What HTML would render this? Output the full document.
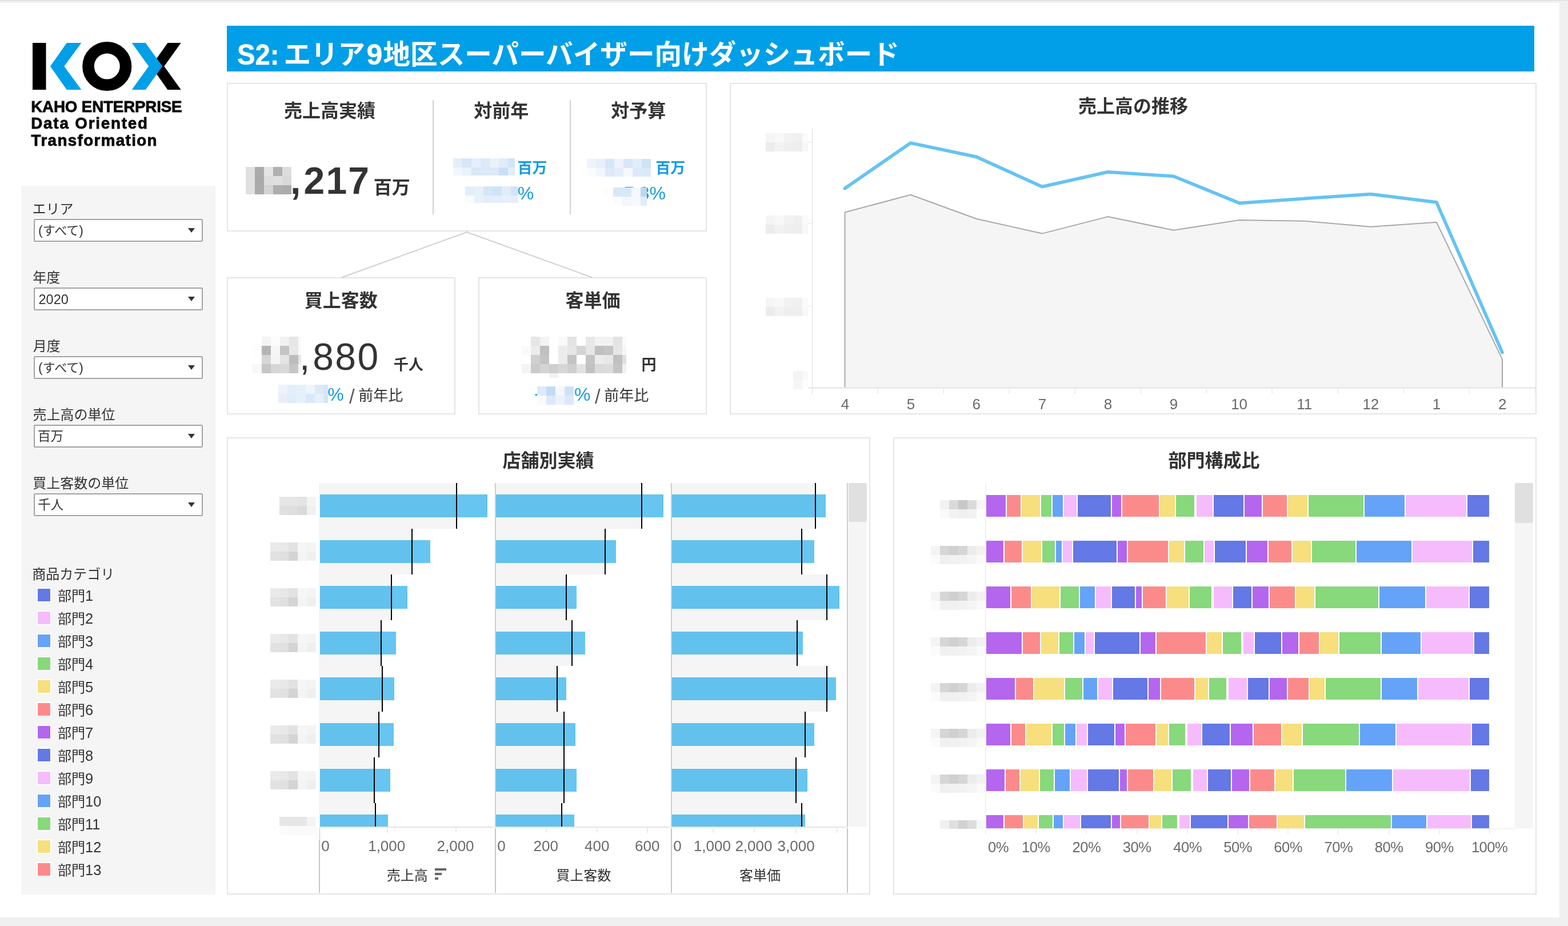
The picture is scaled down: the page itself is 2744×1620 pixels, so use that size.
<!DOCTYPE html>
<html lang="ja"><head><meta charset="utf-8"><title>S2 Dashboard</title><style>
html,body{margin:0;padding:0}
body{width:2744px;height:1620px;position:relative;overflow:hidden;background:#f0f0f0;font-family:"Liberation Sans","Noto Sans CJK JP",sans-serif;color:#333}
.r{position:absolute}
.t{position:absolute;white-space:nowrap;line-height:1.4;margin:0;padding:0}
.m{position:absolute}
.p{position:absolute;box-sizing:border-box;border:2px solid #e5e5e5;background:#fff}
.dd{position:absolute;box-sizing:border-box;border:2px solid #a3a3a3;border-radius:2.5px;background:#fff;width:296px;height:40px;left:59px}
.dd:after{content:"";position:absolute;left:268px;top:14px;border-left:6px solid transparent;border-right:6px solid transparent;border-top:8px solid #333}
.sw{position:absolute;left:64px;width:22px;height:22px;border:2px solid #fff}
svg.abs{position:absolute;overflow:visible}
#w{position:absolute;left:0;top:0;width:2744px;height:1620px;will-change:transform}
</style></head><body>
<div id="w"><div class="r" style="left:0px;top:0px;width:2744px;height:1px;background:#dadada;"></div>
<div class="r" style="left:0px;top:5px;width:2729px;height:1600px;background:#fff;"></div><svg class="abs" style="left:50px;top:60px;filter:blur(0.6px)" width="290" height="110" viewBox="50 60 290 110"><rect x="57" y="75" width="23.5" height="82" fill="#000"/><polygon points="116.8,75 142.4,75 112.3,116 142.4,157 116.8,157 88,116" fill="#009fe8"/><circle cx="187.3" cy="116" r="32.8" fill="none" stroke="#000" stroke-width="20.6"/><polygon points="316.7,75 293.4,75 264.5,116 293.4,157 316.7,157 287.3,116" fill="#000"/><polygon points="230.7,75 254.7,75 284.2,116 254.7,157 230.7,157 260.2,116" fill="#009fe8"/></svg><div class="t" style="left:54.24px;top:167.51px;font-size:27.8px;font-weight:bold;color:#0a0a0a;letter-spacing:-0.2px;filter:blur(0.5px);-webkit-text-stroke:0.8px #0a0a0a;">KAHO ENTERPRISE</div>
<div class="t" style="left:54.24px;top:197.41px;font-size:27.8px;font-weight:bold;color:#0a0a0a;letter-spacing:1.8px;filter:blur(0.5px);-webkit-text-stroke:0.8px #0a0a0a;">Data Oriented</div>
<div class="t" style="left:54.59px;top:226.51px;font-size:27.8px;font-weight:bold;color:#0a0a0a;letter-spacing:1.36px;filter:blur(0.5px);-webkit-text-stroke:0.8px #0a0a0a;">Transformation</div>
<div class="r" style="left:37px;top:325px;width:340px;height:1240px;background:#f5f5f5;"></div>
<div class="t" style="left:56.48px;top:348.58px;font-size:24px;color:#333;">エリア</div>
<div class="dd" style="top:383px"></div>
<div class="t" style="left:67.07px;top:388.88px;font-size:22px;color:#333;"><span style="font-size:1.045em;line-height:0">(</span>すべて<span style="font-size:1.045em;line-height:0">)</span></div>
<div class="t" style="left:57.35px;top:468.58px;font-size:24px;color:#333;">年度</div>
<div class="dd" style="top:503px"></div>
<div class="t" style="left:67.52px;top:507.61px;font-size:23.5px;color:#333;">2020</div>
<div class="t" style="left:57.80px;top:588.58px;font-size:24px;color:#333;">月度</div>
<div class="dd" style="top:623px"></div>
<div class="t" style="left:67.07px;top:628.88px;font-size:22px;color:#333;"><span style="font-size:1.045em;line-height:0">(</span>すべて<span style="font-size:1.045em;line-height:0">)</span></div>
<div class="t" style="left:57.44px;top:708.58px;font-size:24px;color:#333;">売上高の単位</div>
<div class="dd" style="top:743px"></div>
<div class="t" style="left:66.06px;top:748.35px;font-size:22.5px;color:#333;">百万</div>
<div class="t" style="left:57.30px;top:828.58px;font-size:24px;color:#333;">買上客数の単位</div>
<div class="dd" style="top:863px"></div>
<div class="t" style="left:66.33px;top:868.35px;font-size:22.5px;color:#333;">千人</div>
<div class="t" style="left:56.34px;top:987.88px;font-size:24px;color:#333;">商品カテゴリ</div>
<div class="sw" style="top:1028px;background:#6478e6"></div>
<div class="t" style="left:100.99px;top:1026.18px;font-size:24px;color:#333;">部門<span style="font-size:1.062em;line-height:0">1</span></div>
<div class="sw" style="top:1068px;background:#f6bbfc"></div>
<div class="t" style="left:100.99px;top:1066.18px;font-size:24px;color:#333;">部門<span style="font-size:1.062em;line-height:0">2</span></div>
<div class="sw" style="top:1108px;background:#65a3f9"></div>
<div class="t" style="left:100.99px;top:1106.18px;font-size:24px;color:#333;">部門<span style="font-size:1.062em;line-height:0">3</span></div>
<div class="sw" style="top:1148px;background:#88d87c"></div>
<div class="t" style="left:100.99px;top:1146.18px;font-size:24px;color:#333;">部門<span style="font-size:1.062em;line-height:0">4</span></div>
<div class="sw" style="top:1188px;background:#f6df7c"></div>
<div class="t" style="left:100.99px;top:1186.18px;font-size:24px;color:#333;">部門<span style="font-size:1.062em;line-height:0">5</span></div>
<div class="sw" style="top:1228px;background:#fb8b8b"></div>
<div class="t" style="left:100.99px;top:1226.18px;font-size:24px;color:#333;">部門<span style="font-size:1.062em;line-height:0">6</span></div>
<div class="sw" style="top:1268px;background:#b466ef"></div>
<div class="t" style="left:100.99px;top:1266.18px;font-size:24px;color:#333;">部門<span style="font-size:1.062em;line-height:0">7</span></div>
<div class="sw" style="top:1308px;background:#6478e6"></div>
<div class="t" style="left:100.99px;top:1306.18px;font-size:24px;color:#333;">部門<span style="font-size:1.062em;line-height:0">8</span></div>
<div class="sw" style="top:1348px;background:#f6bbfc"></div>
<div class="t" style="left:100.99px;top:1346.18px;font-size:24px;color:#333;">部門<span style="font-size:1.062em;line-height:0">9</span></div>
<div class="sw" style="top:1388px;background:#65a3f9"></div>
<div class="t" style="left:100.99px;top:1386.18px;font-size:24px;color:#333;">部門<span style="font-size:1.062em;line-height:0">10</span></div>
<div class="sw" style="top:1428px;background:#88d87c"></div>
<div class="t" style="left:100.99px;top:1426.18px;font-size:24px;color:#333;">部門<span style="font-size:1.062em;line-height:0">11</span></div>
<div class="sw" style="top:1468px;background:#f6df7c"></div>
<div class="t" style="left:100.99px;top:1466.18px;font-size:24px;color:#333;">部門<span style="font-size:1.062em;line-height:0">12</span></div>
<div class="sw" style="top:1508px;background:#fb8b8b"></div>
<div class="t" style="left:100.99px;top:1506.18px;font-size:24px;color:#333;">部門<span style="font-size:1.062em;line-height:0">13</span></div>
<div class="r" style="left:397px;top:45px;width:2288px;height:80px;background:#009fe8;"></div>
<div class="t" style="left:415.46px;top:61.07px;font-size:50px;font-weight:bold;color:#fff;transform:scaleX(.945);transform-origin:0 0;-webkit-text-stroke:0.5px #fff;">S2:</div>
<div class="t" style="left:496.38px;top:62.99px;font-size:47.6px;font-weight:bold;color:#fff;">エリア</div>
<div class="t" style="left:641.47px;top:61.07px;font-size:50px;font-weight:bold;color:#fff;-webkit-text-stroke:0.4px #fff;">9</div>
<div class="t" style="left:670.50px;top:62.99px;font-size:47.6px;font-weight:bold;color:#fff;">地区スーパーバイザー向けダッシュボード</div>
<div class="p" style="left:397px;top:145px;width:840px;height:260px"></div>
<div class="p" style="left:397px;top:485px;width:400px;height:240px"></div>
<div class="p" style="left:837px;top:485px;width:400px;height:240px"></div>
<div class="p" style="left:1277px;top:145px;width:1412px;height:580px"></div>
<div class="p" style="left:397px;top:765px;width:1126px;height:800px"></div>
<div class="p" style="left:1563px;top:765px;width:1126px;height:800px"></div>
<div class="r" style="left:757px;top:175px;width:2px;height:200px;background:#d2d2d2;"></div>
<div class="r" style="left:997px;top:175px;width:2px;height:200px;background:#d2d2d2;"></div><svg class="abs" style="left:590px;top:404px" width="460" height="84" viewBox="590 404 460 84"><polyline points="598,485.5 817,406 1036.5,485.5" fill="none" stroke="#cfcfcf" stroke-width="2"/></svg><div class="t" style="left:496.96px;top:171.71px;font-size:32px;font-weight:bold;color:#333;">売上高実績</div>
<div class="t" style="left:829.35px;top:171.71px;font-size:32px;font-weight:bold;color:#333;">対前年</div>
<div class="t" style="left:1069.35px;top:171.71px;font-size:32px;font-weight:bold;color:#333;">対予算</div>
<div class="t" style="left:532.84px;top:503.71px;font-size:32px;font-weight:bold;color:#333;">買上客数</div>
<div class="t" style="left:989.52px;top:503.71px;font-size:32px;font-weight:bold;color:#333;">客単価</div><svg class="m" style="left:430px;top:292px" width="80" height="48" shape-rendering="crispEdges"><rect x="0" y="0" width="16" height="16" fill="#e0e0e0"/><rect x="16" y="0" width="16" height="16" fill="#ababab"/><rect x="32" y="0" width="16" height="16" fill="#e4e4e4"/><rect x="48" y="0" width="16" height="16" fill="#b0b0b0"/><rect x="64" y="0" width="16" height="16" fill="#dcdcdc"/><rect x="0" y="16" width="16" height="16" fill="#e0e0e0"/><rect x="16" y="16" width="16" height="16" fill="#aaaaaa"/><rect x="32" y="16" width="16" height="16" fill="#dddddd"/><rect x="48" y="16" width="16" height="16" fill="#e0e0e0"/><rect x="64" y="16" width="16" height="16" fill="#d9d9d9"/><rect x="0" y="32" width="16" height="16" fill="#e0e0e0"/><rect x="16" y="32" width="16" height="16" fill="#ababab"/><rect x="32" y="32" width="16" height="16" fill="#d4d4d4"/><rect x="48" y="32" width="16" height="16" fill="#adadad"/><rect x="64" y="32" width="16" height="16" fill="#ababab"/></svg><div class="t" style="left:508.02px;top:269.93px;font-size:66px;font-weight:bold;color:#333;">,</div>
<div class="t" style="left:531.61px;top:269.93px;font-size:66px;font-weight:bold;color:#333;letter-spacing:2.1px;">217</div>
<div class="t" style="left:653.81px;top:306.31px;font-size:32px;font-weight:bold;color:#333;">百万</div>
<div class="t" style="left:905.47px;top:275.59px;font-size:26px;font-weight:bold;color:#129ce3;">百万</div>
<div class="t" style="left:905.86px;top:316.31px;font-size:32px;color:#129ce3;">%</div><svg class="m" style="left:793px;top:277px" width="108" height="30" shape-rendering="crispEdges"><rect x="0" y="0" width="16" height="16" fill="#e3eefb"/><rect x="16" y="0" width="16" height="16" fill="#d5e6f8"/><rect x="32" y="0" width="16" height="16" fill="#e5effb"/><rect x="48" y="0" width="16" height="16" fill="#dce9f8"/><rect x="64" y="0" width="16" height="16" fill="#e9f1fb"/><rect x="80" y="0" width="16" height="16" fill="#e0ecf9"/><rect x="96" y="0" width="16" height="16" fill="#d3e4f7"/><rect x="0" y="16" width="16" height="16" fill="#f3f7fd"/><rect x="16" y="16" width="16" height="16" fill="#eaf2fc"/><rect x="32" y="16" width="16" height="16" fill="#d9e8f8"/><rect x="48" y="16" width="16" height="16" fill="#dce9f8"/><rect x="64" y="16" width="16" height="16" fill="#dce9f8"/><rect x="80" y="16" width="16" height="16" fill="#c9dff6"/><rect x="96" y="16" width="16" height="16" fill="#e2edfa"/></svg><svg class="m" style="left:814px;top:326px" width="93" height="29" shape-rendering="crispEdges"><rect x="0" y="0" width="16" height="16" fill="#e3eefb"/><rect x="16" y="0" width="16" height="16" fill="#e6f1fb"/><rect x="32" y="0" width="16" height="16" fill="#d5e6f8"/><rect x="48" y="0" width="16" height="16" fill="#cfe3f7"/><rect x="64" y="0" width="16" height="16" fill="#e0ecf9"/><rect x="80" y="0" width="16" height="16" fill="#d3e4f7"/><rect x="0" y="16" width="16" height="16" fill="#f9fbfe"/><rect x="16" y="16" width="16" height="16" fill="#e8f1fb"/><rect x="32" y="16" width="16" height="16" fill="#e3eefa"/><rect x="48" y="16" width="16" height="16" fill="#e3eefa"/><rect x="64" y="16" width="16" height="16" fill="#e6effa"/><rect x="80" y="16" width="16" height="16" fill="#e3eefa"/></svg><div class="t" style="left:1147.22px;top:275.59px;font-size:26px;font-weight:bold;color:#129ce3;">百万</div>
<div class="t" style="left:1081.45px;top:316.31px;font-size:32px;color:#129ce3;">-7.8%</div><svg class="m" style="left:1027px;top:278px" width="112" height="31" shape-rendering="crispEdges"><rect x="0" y="0" width="16" height="16" fill="#eef4fc"/><rect x="16" y="0" width="16" height="16" fill="#e8f0fb"/><rect x="32" y="0" width="16" height="16" fill="#d5e6f8"/><rect x="48" y="0" width="16" height="16" fill="#edf3fc"/><rect x="64" y="0" width="16" height="16" fill="#d8e7f8"/><rect x="80" y="0" width="16" height="16" fill="#e3edfa"/><rect x="96" y="0" width="16" height="16" fill="#cfe3f7"/><rect x="0" y="16" width="16" height="16" fill="#fbfcfe"/><rect x="16" y="16" width="16" height="16" fill="#f3f7fd"/><rect x="32" y="16" width="16" height="16" fill="#dce9f8"/><rect x="48" y="16" width="16" height="16" fill="#e4eefa"/><rect x="64" y="16" width="16" height="16" fill="#f6f8fd"/><rect x="80" y="16" width="16" height="16" fill="#dce9f8"/><rect x="96" y="16" width="16" height="16" fill="#dbe8f8"/></svg><svg class="m" style="left:1057px;top:327.5px" width="74.75" height="32" shape-rendering="crispEdges"><rect x="0" y="0" width="16" height="16" fill="#fdfdfe"/><rect x="16" y="0" width="16" height="16" fill="#d9e8f8"/><rect x="32" y="0" width="16" height="16" fill="#d9e8f8"/><rect x="48" y="0" width="16" height="16" fill="#f4f7fd"/><rect x="64" y="0" width="16" height="16" fill="#b9d7f4"/><rect x="16" y="16" width="16" height="16" fill="#fbfcfe"/><rect x="32" y="16" width="16" height="16" fill="#f3f6fc"/><rect x="48" y="16" width="16" height="16" fill="#f6f8fd"/><rect x="64" y="16" width="16" height="16" fill="#e0ecfa"/></svg><svg class="m" style="left:442px;top:589px" width="84.5" height="64" shape-rendering="crispEdges"><rect x="16" y="0" width="16" height="16" fill="#f4f4f4"/><rect x="32" y="0" width="16" height="16" fill="#fcfcfc"/><rect x="48" y="0" width="16" height="16" fill="#f1f1f1"/><rect x="64" y="0" width="16" height="16" fill="#e6e6e6"/><rect x="80" y="0" width="16" height="16" fill="#fafafa"/><rect x="0" y="16" width="16" height="16" fill="#fdfdfd"/><rect x="16" y="16" width="16" height="16" fill="#b4b4b4"/><rect x="32" y="16" width="16" height="16" fill="#f6f6f6"/><rect x="48" y="16" width="16" height="16" fill="#c4c4c4"/><rect x="64" y="16" width="16" height="16" fill="#e8e8e8"/><rect x="80" y="16" width="16" height="16" fill="#fafafa"/><rect x="16" y="32" width="16" height="16" fill="#d6d6d6"/><rect x="32" y="32" width="16" height="16" fill="#f5f5f5"/><rect x="48" y="32" width="16" height="16" fill="#e4e4e4"/><rect x="64" y="32" width="16" height="16" fill="#bcbcbc"/><rect x="80" y="32" width="16" height="16" fill="#e6e6e6"/><rect x="0" y="48" width="16" height="16" fill="#f8f8f8"/><rect x="16" y="48" width="16" height="16" fill="#c6c6c6"/><rect x="32" y="48" width="16" height="16" fill="#d6d6d6"/><rect x="48" y="48" width="16" height="16" fill="#d9d9d9"/><rect x="64" y="48" width="16" height="16" fill="#c6c6c6"/><rect x="80" y="48" width="16" height="16" fill="#f6f6f6"/></svg><div class="t" style="left:524.07px;top:578.43px;font-size:66px;color:#333;">,</div>
<div class="t" style="left:547.13px;top:578.43px;font-size:66px;color:#333;letter-spacing:2.5px;">880</div>
<div class="t" style="left:688.80px;top:620.39px;font-size:26px;font-weight:bold;color:#333;">千人</div><svg class="m" style="left:487px;top:673px" width="87" height="32" shape-rendering="crispEdges"><rect x="0" y="0" width="16" height="16" fill="#edf3fc"/><rect x="16" y="0" width="16" height="16" fill="#e3eefa"/><rect x="32" y="0" width="16" height="16" fill="#e6f0fb"/><rect x="48" y="0" width="16" height="16" fill="#eef5fd"/><rect x="64" y="0" width="16" height="16" fill="#dce9f8"/><rect x="80" y="0" width="16" height="16" fill="#d5e6f8"/><rect x="0" y="16" width="16" height="16" fill="#e8effa"/><rect x="16" y="16" width="16" height="16" fill="#e0ecf9"/><rect x="32" y="16" width="16" height="16" fill="#e6f0fb"/><rect x="48" y="16" width="16" height="16" fill="#dae8f8"/><rect x="64" y="16" width="16" height="16" fill="#e6f0fb"/><rect x="80" y="16" width="16" height="16" fill="#d3e4f7"/></svg><div class="t" style="left:573.36px;top:667.71px;font-size:32px;color:#129ce3;">%</div>
<div class="t" style="left:610.90px;top:668.97px;font-size:35px;color:#5a5a5a;">/</div>
<div class="t" style="left:627.37px;top:674.29px;font-size:26px;color:#333;">前年比</div><svg class="m" style="left:913px;top:589px" width="183" height="72" shape-rendering="crispEdges"><rect x="16" y="0" width="16" height="16" fill="#e6e6e6"/><rect x="32" y="0" width="16" height="16" fill="#f3f3f3"/><rect x="64" y="0" width="16" height="16" fill="#fafafa"/><rect x="80" y="0" width="16" height="16" fill="#e4e4e4"/><rect x="112" y="0" width="16" height="16" fill="#e8e8e8"/><rect x="128" y="0" width="16" height="16" fill="#f2f2f2"/><rect x="144" y="0" width="16" height="16" fill="#f2f2f2"/><rect x="160" y="0" width="16" height="16" fill="#e4e4e4"/><rect x="176" y="0" width="16" height="16" fill="#fafafa"/><rect x="0" y="16" width="16" height="16" fill="#fafafa"/><rect x="16" y="16" width="16" height="16" fill="#ececec"/><rect x="32" y="16" width="16" height="16" fill="#c0c0c0"/><rect x="64" y="16" width="16" height="16" fill="#ececec"/><rect x="80" y="16" width="16" height="16" fill="#e6e6e6"/><rect x="96" y="16" width="16" height="16" fill="#d4d4d4"/><rect x="112" y="16" width="16" height="16" fill="#e6e6e6"/><rect x="128" y="16" width="16" height="16" fill="#c0c0c0"/><rect x="144" y="16" width="16" height="16" fill="#c4c4c4"/><rect x="160" y="16" width="16" height="16" fill="#e6e6e6"/><rect x="176" y="16" width="16" height="16" fill="#f6f6f6"/><rect x="16" y="32" width="16" height="16" fill="#d0d0d0"/><rect x="32" y="32" width="16" height="16" fill="#c4c4c4"/><rect x="64" y="32" width="16" height="16" fill="#ececec"/><rect x="80" y="32" width="16" height="16" fill="#c4c4c4"/><rect x="112" y="32" width="16" height="16" fill="#c4c4c4"/><rect x="128" y="32" width="16" height="16" fill="#ececec"/><rect x="144" y="32" width="16" height="16" fill="#e8e8e8"/><rect x="160" y="32" width="16" height="16" fill="#c0c0c0"/><rect x="176" y="32" width="16" height="16" fill="#e0e0e0"/><rect x="0" y="48" width="16" height="16" fill="#f4f4f4"/><rect x="16" y="48" width="16" height="16" fill="#cacaca"/><rect x="32" y="48" width="16" height="16" fill="#d4d4d4"/><rect x="48" y="48" width="16" height="16" fill="#cfcfcf"/><rect x="64" y="48" width="16" height="16" fill="#d6d6d6"/><rect x="80" y="48" width="16" height="16" fill="#cfcfcf"/><rect x="96" y="48" width="16" height="16" fill="#e2e2e2"/><rect x="112" y="48" width="16" height="16" fill="#c2c2c2"/><rect x="128" y="48" width="16" height="16" fill="#dadada"/><rect x="144" y="48" width="16" height="16" fill="#dcdcdc"/><rect x="160" y="48" width="16" height="16" fill="#c4c4c4"/><rect x="176" y="48" width="16" height="16" fill="#f0f0f0"/><rect x="48" y="64" width="16" height="16" fill="#f2f2f2"/></svg><div class="t" style="left:1122.42px;top:620.19px;font-size:26px;font-weight:bold;color:#333;">円</div>
<div class="t" style="left:935.06px;top:667.19px;font-size:32.5px;color:#129ce3;">-</div><svg class="m" style="left:940px;top:676px" width="64.5" height="32" shape-rendering="crispEdges"><rect x="0" y="0" width="16" height="16" fill="#dcebfa"/><rect x="16" y="0" width="16" height="16" fill="#c3dcf6"/><rect x="32" y="0" width="16" height="16" fill="#f3f8fd"/><rect x="48" y="0" width="16" height="16" fill="#cfe3f7"/><rect x="0" y="16" width="16" height="16" fill="#f9fafd"/><rect x="16" y="16" width="16" height="16" fill="#dce9f8"/><rect x="32" y="16" width="16" height="16" fill="#eaf2fc"/><rect x="48" y="16" width="16" height="16" fill="#dde9f9"/></svg><div class="t" style="left:1005.11px;top:667.71px;font-size:32px;color:#129ce3;">%</div>
<div class="t" style="left:1040.90px;top:668.97px;font-size:35px;color:#5a5a5a;">/</div>
<div class="t" style="left:1057.37px;top:674.29px;font-size:26px;color:#333;">前年比</div>
<div class="t" style="left:1887.00px;top:164.41px;font-size:32px;font-weight:bold;color:#333;">売上高の推移</div><svg class="abs" style="left:1280px;top:150px" width="1406" height="572" viewBox="1280 150 1406 572"><polygon points="1478.5,678 1478.5,371.5 1593.5,340.8 1708.6,382.7 1823.7,408.6 1938.7,379.1 2053.8,402.7 2168.8,385.0 2283.8,386.8 2398.9,396.8 2513.9,388.8 2629.0,628.6 2629.0,678" fill="#f5f5f5"/><polyline points="1478.5,678 1478.5,371.5 1593.5,340.8 1708.6,382.7 1823.7,408.6 1938.7,379.1 2053.8,402.7 2168.8,385.0 2283.8,386.8 2398.9,396.8 2513.9,388.8 2629.0,628.6 2629.0,678" fill="none" stroke="#a9a9a9" stroke-width="2" stroke-linejoin="round"/><line x1="1421.5" y1="225" x2="1421.5" y2="689" stroke="#e6e6e6" stroke-width="1.5"/><line x1="1414" y1="678.5" x2="2687" y2="678.5" stroke="#e3e3e3" stroke-width="2"/><line x1="1414" y1="248.7" x2="1421" y2="248.7" stroke="#ececec" stroke-width="1.5"/><line x1="1414" y1="391" x2="1421" y2="391" stroke="#ececec" stroke-width="1.5"/><line x1="1414" y1="535.3" x2="1421" y2="535.3" stroke="#ececec" stroke-width="1.5"/><line x1="1536.0" y1="679.5" x2="1536.0" y2="688.5" stroke="#ededed" stroke-width="2"/><line x1="1651.1" y1="679.5" x2="1651.1" y2="688.5" stroke="#ededed" stroke-width="2"/><line x1="1766.2" y1="679.5" x2="1766.2" y2="688.5" stroke="#ededed" stroke-width="2"/><line x1="1881.2" y1="679.5" x2="1881.2" y2="688.5" stroke="#ededed" stroke-width="2"/><line x1="1996.2" y1="679.5" x2="1996.2" y2="688.5" stroke="#ededed" stroke-width="2"/><line x1="2111.3" y1="679.5" x2="2111.3" y2="688.5" stroke="#ededed" stroke-width="2"/><line x1="2226.3" y1="679.5" x2="2226.3" y2="688.5" stroke="#ededed" stroke-width="2"/><line x1="2341.4" y1="679.5" x2="2341.4" y2="688.5" stroke="#ededed" stroke-width="2"/><line x1="2456.4" y1="679.5" x2="2456.4" y2="688.5" stroke="#ededed" stroke-width="2"/><line x1="2571.5" y1="679.5" x2="2571.5" y2="688.5" stroke="#ededed" stroke-width="2"/><line x1="2686.6" y1="679.5" x2="2686.6" y2="688.5" stroke="#ededed" stroke-width="2"/><polyline points="1478.5,329.6 1593.5,250.1 1708.6,274.3 1823.7,326.7 1938.7,300.8 2053.8,308.4 2168.8,355.3 2283.8,347.3 2398.9,339.7 2513.9,353.8 2629.0,616.6" fill="none" stroke="#66c3f1" stroke-width="5.8" stroke-linejoin="round" stroke-linecap="round"/></svg><svg class="m" style="left:1340px;top:233px" width="74" height="32" shape-rendering="crispEdges"><rect x="0" y="0" width="16" height="16" fill="#f5f5f5"/><rect x="16" y="0" width="16" height="16" fill="#f8f8f8"/><rect x="32" y="0" width="16" height="16" fill="#f2f2f2"/><rect x="48" y="0" width="16" height="16" fill="#f0f0f0"/><rect x="64" y="0" width="16" height="16" fill="#fafafa"/><rect x="0" y="16" width="16" height="16" fill="#ececec"/><rect x="16" y="16" width="16" height="16" fill="#f2f2f2"/><rect x="32" y="16" width="16" height="16" fill="#efefef"/><rect x="48" y="16" width="16" height="16" fill="#eeeeee"/><rect x="64" y="16" width="16" height="16" fill="#f8f8f8"/></svg><svg class="m" style="left:1340px;top:377px" width="74" height="32" shape-rendering="crispEdges"><rect x="0" y="0" width="16" height="16" fill="#f5f5f5"/><rect x="16" y="0" width="16" height="16" fill="#f8f8f8"/><rect x="32" y="0" width="16" height="16" fill="#f2f2f2"/><rect x="48" y="0" width="16" height="16" fill="#f0f0f0"/><rect x="64" y="0" width="16" height="16" fill="#fafafa"/><rect x="0" y="16" width="16" height="16" fill="#ececec"/><rect x="16" y="16" width="16" height="16" fill="#f2f2f2"/><rect x="32" y="16" width="16" height="16" fill="#efefef"/><rect x="48" y="16" width="16" height="16" fill="#eeeeee"/><rect x="64" y="16" width="16" height="16" fill="#f8f8f8"/></svg><svg class="m" style="left:1340px;top:521px" width="74" height="32" shape-rendering="crispEdges"><rect x="0" y="0" width="16" height="16" fill="#f5f5f5"/><rect x="16" y="0" width="16" height="16" fill="#f8f8f8"/><rect x="32" y="0" width="16" height="16" fill="#f2f2f2"/><rect x="48" y="0" width="16" height="16" fill="#f0f0f0"/><rect x="64" y="0" width="16" height="16" fill="#fafafa"/><rect x="0" y="16" width="16" height="16" fill="#ececec"/><rect x="16" y="16" width="16" height="16" fill="#f2f2f2"/><rect x="32" y="16" width="16" height="16" fill="#efefef"/><rect x="48" y="16" width="16" height="16" fill="#eeeeee"/><rect x="64" y="16" width="16" height="16" fill="#f8f8f8"/></svg><svg class="m" style="left:1388px;top:649px" width="26" height="32" shape-rendering="crispEdges"><rect x="0" y="0" width="16" height="16" fill="#f4f4f4"/><rect x="16" y="0" width="16" height="16" fill="#fafafa"/><rect x="0" y="16" width="16" height="16" fill="#f6f6f6"/><rect x="16" y="16" width="16" height="16" fill="#fdfdfd"/></svg><div class="t" style="left:1471.65px;top:688.59px;font-size:26px;color:#6a6a6a;">4</div>
<div class="t" style="left:1586.65px;top:688.59px;font-size:26px;color:#6a6a6a;">5</div>
<div class="t" style="left:1701.58px;top:688.59px;font-size:26px;color:#6a6a6a;">6</div>
<div class="t" style="left:1816.71px;top:688.59px;font-size:26px;color:#6a6a6a;">7</div>
<div class="t" style="left:1931.77px;top:688.59px;font-size:26px;color:#6a6a6a;">8</div>
<div class="t" style="left:2046.83px;top:688.59px;font-size:26px;color:#6a6a6a;">9</div>
<div class="t" style="left:2154.16px;top:688.59px;font-size:26px;color:#6a6a6a;">10</div>
<div class="t" style="left:2269.33px;top:688.59px;font-size:26px;color:#6a6a6a;">11</div>
<div class="t" style="left:2384.40px;top:688.59px;font-size:26px;color:#6a6a6a;">12</div>
<div class="t" style="left:2506.66px;top:688.59px;font-size:26px;color:#6a6a6a;">1</div>
<div class="t" style="left:2622.07px;top:688.59px;font-size:26px;color:#6a6a6a;">2</div>
<div class="t" style="left:879.40px;top:784.21px;font-size:32px;font-weight:bold;color:#333;">店舗別実績</div><svg class="abs" style="left:555px;top:845px" width="965" height="720" viewBox="555 845 965 720" shape-rendering="crispEdges"><rect x="560" y="845" width="239" height="80" fill="#f5f5f5"/><rect x="868" y="845" width="255" height="80" fill="#f5f5f5"/><rect x="1176" y="845" width="251" height="80" fill="#f5f5f5"/><rect x="560" y="925" width="161" height="80" fill="#f5f5f5"/><rect x="868" y="925" width="191" height="80" fill="#f5f5f5"/><rect x="1176" y="925" width="227" height="80" fill="#f5f5f5"/><rect x="560" y="1005" width="125" height="80" fill="#f5f5f5"/><rect x="868" y="1005" width="123" height="80" fill="#f5f5f5"/><rect x="1176" y="1005" width="271" height="80" fill="#f5f5f5"/><rect x="560" y="1085" width="107" height="80" fill="#f5f5f5"/><rect x="868" y="1085" width="133" height="80" fill="#f5f5f5"/><rect x="1176" y="1085" width="219" height="80" fill="#f5f5f5"/><rect x="560" y="1165" width="109" height="80" fill="#f5f5f5"/><rect x="868" y="1165" width="107" height="80" fill="#f5f5f5"/><rect x="1176" y="1165" width="271" height="80" fill="#f5f5f5"/><rect x="560" y="1245" width="103" height="80" fill="#f5f5f5"/><rect x="868" y="1245" width="119" height="80" fill="#f5f5f5"/><rect x="1176" y="1245" width="233" height="80" fill="#f5f5f5"/><rect x="560" y="1325" width="95" height="80" fill="#f5f5f5"/><rect x="868" y="1325" width="119" height="80" fill="#f5f5f5"/><rect x="1176" y="1325" width="217" height="80" fill="#f5f5f5"/><rect x="560" y="1405" width="97" height="41" fill="#f5f5f5"/><rect x="868" y="1405" width="115" height="41" fill="#f5f5f5"/><rect x="1176" y="1405" width="227" height="41" fill="#f5f5f5"/><rect x="560" y="865" width="293" height="40" fill="#009fe8" fill-opacity="0.6"/><rect x="868" y="865" width="293" height="40" fill="#009fe8" fill-opacity="0.6"/><rect x="1176" y="865" width="269" height="40" fill="#009fe8" fill-opacity="0.6"/><rect x="560" y="945" width="193" height="40" fill="#009fe8" fill-opacity="0.6"/><rect x="868" y="945" width="210" height="40" fill="#009fe8" fill-opacity="0.6"/><rect x="1176" y="945" width="249" height="40" fill="#009fe8" fill-opacity="0.6"/><rect x="560" y="1025" width="153" height="40" fill="#009fe8" fill-opacity="0.6"/><rect x="868" y="1025" width="141" height="40" fill="#009fe8" fill-opacity="0.6"/><rect x="1176" y="1025" width="293" height="40" fill="#009fe8" fill-opacity="0.6"/><rect x="560" y="1105" width="133" height="40" fill="#009fe8" fill-opacity="0.6"/><rect x="868" y="1105" width="156" height="40" fill="#009fe8" fill-opacity="0.6"/><rect x="1176" y="1105" width="229" height="40" fill="#009fe8" fill-opacity="0.6"/><rect x="560" y="1185" width="130" height="40" fill="#009fe8" fill-opacity="0.6"/><rect x="868" y="1185" width="123" height="40" fill="#009fe8" fill-opacity="0.6"/><rect x="1176" y="1185" width="287" height="40" fill="#009fe8" fill-opacity="0.6"/><rect x="560" y="1265" width="129" height="40" fill="#009fe8" fill-opacity="0.6"/><rect x="868" y="1265" width="139" height="40" fill="#009fe8" fill-opacity="0.6"/><rect x="1176" y="1265" width="249" height="40" fill="#009fe8" fill-opacity="0.6"/><rect x="560" y="1345" width="123" height="40" fill="#009fe8" fill-opacity="0.6"/><rect x="868" y="1345" width="141" height="40" fill="#009fe8" fill-opacity="0.6"/><rect x="1176" y="1345" width="237" height="40" fill="#009fe8" fill-opacity="0.6"/><rect x="560" y="1425" width="119" height="21" fill="#009fe8" fill-opacity="0.6"/><rect x="868" y="1425" width="137" height="21" fill="#009fe8" fill-opacity="0.6"/><rect x="1176" y="1425" width="233" height="21" fill="#009fe8" fill-opacity="0.6"/><rect x="798" y="845" width="2" height="80" fill="#000"/><rect x="1122" y="845" width="2" height="80" fill="#000"/><rect x="1426" y="845" width="2" height="80" fill="#000"/><rect x="720" y="925" width="2" height="80" fill="#000"/><rect x="1058" y="925" width="2" height="80" fill="#000"/><rect x="1402" y="925" width="2" height="80" fill="#000"/><rect x="684" y="1005" width="2" height="80" fill="#000"/><rect x="990" y="1005" width="2" height="80" fill="#000"/><rect x="1446" y="1005" width="2" height="80" fill="#000"/><rect x="666" y="1085" width="2" height="80" fill="#000"/><rect x="1000" y="1085" width="2" height="80" fill="#000"/><rect x="1394" y="1085" width="2" height="80" fill="#000"/><rect x="668" y="1165" width="2" height="80" fill="#000"/><rect x="974" y="1165" width="2" height="80" fill="#000"/><rect x="1446" y="1165" width="2" height="80" fill="#000"/><rect x="662" y="1245" width="2" height="80" fill="#000"/><rect x="986" y="1245" width="2" height="80" fill="#000"/><rect x="1408" y="1245" width="2" height="80" fill="#000"/><rect x="654" y="1325" width="2" height="80" fill="#000"/><rect x="986" y="1325" width="2" height="80" fill="#000"/><rect x="1392" y="1325" width="2" height="80" fill="#000"/><rect x="656" y="1405" width="2" height="41" fill="#000"/><rect x="982" y="1405" width="2" height="41" fill="#000"/><rect x="1402" y="1405" width="2" height="41" fill="#000"/><rect x="558" y="1446" width="926" height="2" fill="#e4e4e4"/><rect x="559" y="845" width="1" height="601" fill="#ebebeb"/><rect x="866" y="845" width="2" height="601" fill="#cdcdcd"/><rect x="1174" y="845" width="2" height="601" fill="#cdcdcd"/><rect x="1482" y="845" width="2" height="601" fill="#cdcdcd"/><rect x="558" y="1449" width="2" height="113" fill="#c6c6c6"/><rect x="866" y="1449" width="2" height="113" fill="#c6c6c6"/><rect x="1174" y="1449" width="2" height="113" fill="#c6c6c6"/><rect x="1482" y="1449" width="2" height="113" fill="#c6c6c6"/><rect x="677" y="1449" width="2" height="8" fill="#ebebeb"/><rect x="797" y="1449" width="2" height="8" fill="#ebebeb"/><rect x="955" y="1449" width="2" height="8" fill="#ebebeb"/><rect x="1044" y="1449" width="2" height="8" fill="#ebebeb"/><rect x="1132" y="1449" width="2" height="8" fill="#ebebeb"/><rect x="1247" y="1449" width="2" height="8" fill="#ebebeb"/><rect x="1319" y="1449" width="2" height="8" fill="#ebebeb"/><rect x="1392" y="1449" width="2" height="8" fill="#ebebeb"/><rect x="1464" y="1449" width="2" height="8" fill="#ebebeb"/><rect x="1485" y="845" width="32" height="601" fill="#f5f5f5"/><rect x="1485" y="845" width="32" height="68" rx="2" fill="#e0e0e0" shape-rendering="auto"/><rect x="761" y="1519" width="20" height="4" fill="#666"/><rect x="761" y="1527" width="12" height="4" fill="#666"/><rect x="761" y="1535" width="6" height="4" fill="#666"/></svg><svg class="m" style="left:473px;top:869px" width="80" height="32" shape-rendering="crispEdges"><rect x="0" y="0" width="16" height="16" fill="#fdfdfd"/><rect x="16" y="0" width="16" height="16" fill="#e6e6e6"/><rect x="32" y="0" width="16" height="16" fill="#e6e6e6"/><rect x="48" y="0" width="16" height="16" fill="#e4e4e4"/><rect x="64" y="0" width="16" height="16" fill="#f4f4f4"/><rect x="16" y="16" width="16" height="16" fill="#e0e0e0"/><rect x="32" y="16" width="16" height="16" fill="#dedede"/><rect x="48" y="16" width="16" height="16" fill="#dadada"/><rect x="64" y="16" width="16" height="16" fill="#f0f0f0"/></svg><svg class="m" style="left:473px;top:949px" width="80" height="32" shape-rendering="crispEdges"><rect x="0" y="0" width="16" height="16" fill="#eaeaea"/><rect x="16" y="0" width="16" height="16" fill="#e8e8e8"/><rect x="32" y="0" width="16" height="16" fill="#e2e2e2"/><rect x="48" y="0" width="16" height="16" fill="#f6f6f6"/><rect x="64" y="0" width="16" height="16" fill="#f4f4f4"/><rect x="0" y="16" width="16" height="16" fill="#e2e2e2"/><rect x="16" y="16" width="16" height="16" fill="#e0e0e0"/><rect x="32" y="16" width="16" height="16" fill="#d4d4d4"/><rect x="48" y="16" width="16" height="16" fill="#f4f4f4"/><rect x="64" y="16" width="16" height="16" fill="#efefef"/></svg><svg class="m" style="left:473px;top:1029px" width="80" height="32" shape-rendering="crispEdges"><rect x="0" y="0" width="16" height="16" fill="#eaeaea"/><rect x="16" y="0" width="16" height="16" fill="#e8e8e8"/><rect x="32" y="0" width="16" height="16" fill="#e2e2e2"/><rect x="48" y="0" width="16" height="16" fill="#f6f6f6"/><rect x="64" y="0" width="16" height="16" fill="#f4f4f4"/><rect x="0" y="16" width="16" height="16" fill="#e2e2e2"/><rect x="16" y="16" width="16" height="16" fill="#e0e0e0"/><rect x="32" y="16" width="16" height="16" fill="#d4d4d4"/><rect x="48" y="16" width="16" height="16" fill="#f4f4f4"/><rect x="64" y="16" width="16" height="16" fill="#efefef"/></svg><svg class="m" style="left:473px;top:1109px" width="80" height="32" shape-rendering="crispEdges"><rect x="0" y="0" width="16" height="16" fill="#eaeaea"/><rect x="16" y="0" width="16" height="16" fill="#e8e8e8"/><rect x="32" y="0" width="16" height="16" fill="#e2e2e2"/><rect x="48" y="0" width="16" height="16" fill="#f6f6f6"/><rect x="64" y="0" width="16" height="16" fill="#f4f4f4"/><rect x="0" y="16" width="16" height="16" fill="#e2e2e2"/><rect x="16" y="16" width="16" height="16" fill="#e0e0e0"/><rect x="32" y="16" width="16" height="16" fill="#d4d4d4"/><rect x="48" y="16" width="16" height="16" fill="#f4f4f4"/><rect x="64" y="16" width="16" height="16" fill="#efefef"/></svg><svg class="m" style="left:473px;top:1189px" width="80" height="32" shape-rendering="crispEdges"><rect x="0" y="0" width="16" height="16" fill="#eaeaea"/><rect x="16" y="0" width="16" height="16" fill="#e8e8e8"/><rect x="32" y="0" width="16" height="16" fill="#e2e2e2"/><rect x="48" y="0" width="16" height="16" fill="#f6f6f6"/><rect x="64" y="0" width="16" height="16" fill="#f4f4f4"/><rect x="0" y="16" width="16" height="16" fill="#e2e2e2"/><rect x="16" y="16" width="16" height="16" fill="#e0e0e0"/><rect x="32" y="16" width="16" height="16" fill="#d4d4d4"/><rect x="48" y="16" width="16" height="16" fill="#f4f4f4"/><rect x="64" y="16" width="16" height="16" fill="#efefef"/></svg><svg class="m" style="left:473px;top:1269px" width="80" height="32" shape-rendering="crispEdges"><rect x="0" y="0" width="16" height="16" fill="#eaeaea"/><rect x="16" y="0" width="16" height="16" fill="#e8e8e8"/><rect x="32" y="0" width="16" height="16" fill="#e2e2e2"/><rect x="48" y="0" width="16" height="16" fill="#f6f6f6"/><rect x="64" y="0" width="16" height="16" fill="#f4f4f4"/><rect x="0" y="16" width="16" height="16" fill="#e2e2e2"/><rect x="16" y="16" width="16" height="16" fill="#e0e0e0"/><rect x="32" y="16" width="16" height="16" fill="#d4d4d4"/><rect x="48" y="16" width="16" height="16" fill="#f4f4f4"/><rect x="64" y="16" width="16" height="16" fill="#efefef"/></svg><svg class="m" style="left:473px;top:1349px" width="80" height="32" shape-rendering="crispEdges"><rect x="0" y="0" width="16" height="16" fill="#eaeaea"/><rect x="16" y="0" width="16" height="16" fill="#e8e8e8"/><rect x="32" y="0" width="16" height="16" fill="#e2e2e2"/><rect x="48" y="0" width="16" height="16" fill="#f6f6f6"/><rect x="64" y="0" width="16" height="16" fill="#f4f4f4"/><rect x="0" y="16" width="16" height="16" fill="#e2e2e2"/><rect x="16" y="16" width="16" height="16" fill="#e0e0e0"/><rect x="32" y="16" width="16" height="16" fill="#d4d4d4"/><rect x="48" y="16" width="16" height="16" fill="#f4f4f4"/><rect x="64" y="16" width="16" height="16" fill="#efefef"/></svg><svg class="m" style="left:489px;top:1429px" width="69.5" height="41" shape-rendering="crispEdges"><rect x="0" y="0" width="16" height="16" fill="#e6e6e6"/><rect x="16" y="0" width="16" height="16" fill="#e6e6e6"/><rect x="32" y="0" width="16" height="16" fill="#e6e6e6"/><rect x="48" y="0" width="16" height="16" fill="#f4f4f4"/><rect x="0" y="16" width="16" height="16" fill="#fbfbfb"/><rect x="16" y="16" width="16" height="16" fill="#fafafa"/><rect x="32" y="16" width="16" height="16" fill="#fafafa"/><rect x="48" y="16" width="16" height="16" fill="#fafafa"/><rect x="64" y="16" width="16" height="16" fill="#fbfbfb"/><rect x="64" y="32" width="16" height="16" fill="#fafafa"/></svg><div class="t" style="left:562.28px;top:1461.99px;font-size:26px;color:#6a6a6a;">0</div>
<div class="t" style="left:644.19px;top:1461.99px;font-size:26px;color:#6a6a6a;">1,000</div>
<div class="t" style="left:764.52px;top:1461.99px;font-size:26px;color:#6a6a6a;">2,000</div>
<div class="t" style="left:870.28px;top:1461.99px;font-size:26px;color:#6a6a6a;">0</div>
<div class="t" style="left:933.56px;top:1461.99px;font-size:26px;color:#6a6a6a;">200</div>
<div class="t" style="left:1023.12px;top:1461.99px;font-size:26px;color:#6a6a6a;">400</div>
<div class="t" style="left:1111.06px;top:1461.99px;font-size:26px;color:#6a6a6a;">600</div>
<div class="t" style="left:1178.28px;top:1461.99px;font-size:26px;color:#6a6a6a;">0</div>
<div class="t" style="left:1213.89px;top:1461.99px;font-size:26px;color:#6a6a6a;">1,000</div>
<div class="t" style="left:1286.42px;top:1461.99px;font-size:26px;color:#6a6a6a;">2,000</div>
<div class="t" style="left:1360.58px;top:1461.99px;font-size:26px;color:#6a6a6a;">3,000</div>
<div class="t" style="left:676.86px;top:1514.58px;font-size:24px;color:#333;">売上高</div>
<div class="t" style="left:973.36px;top:1514.58px;font-size:24px;color:#333;">買上客数</div>
<div class="t" style="left:1293.91px;top:1514.58px;font-size:24px;color:#333;">客単価</div>
<div class="t" style="left:2044.38px;top:784.21px;font-size:32px;font-weight:bold;color:#333;">部門構成比</div><svg class="abs" style="left:1720px;top:845px" width="966" height="620" viewBox="1720 845 966 620" shape-rendering="crispEdges"><rect x="1724" y="845" width="2" height="604" fill="#f1f1f1"/><rect x="1724" y="1449" width="927" height="2" fill="#f3f3f3"/><rect x="1724" y="1451" width="2" height="8" fill="#f0f0f0"/><rect x="1812" y="1451" width="2" height="8" fill="#f0f0f0"/><rect x="1900" y="1451" width="2" height="8" fill="#f0f0f0"/><rect x="1989" y="1451" width="2" height="8" fill="#f0f0f0"/><rect x="2077" y="1451" width="2" height="8" fill="#f0f0f0"/><rect x="2165" y="1451" width="2" height="8" fill="#f0f0f0"/><rect x="2253" y="1451" width="2" height="8" fill="#f0f0f0"/><rect x="2341" y="1451" width="2" height="8" fill="#f0f0f0"/><rect x="2430" y="1451" width="2" height="8" fill="#f0f0f0"/><rect x="2518" y="1451" width="2" height="8" fill="#f0f0f0"/><rect x="2606" y="1451" width="2" height="8" fill="#f0f0f0"/><rect x="1726" y="866" width="34" height="38" fill="#b466ef"/><rect x="1762" y="866" width="24" height="38" fill="#fb8b8b"/><rect x="1788" y="866" width="32" height="38" fill="#f6df7c"/><rect x="1822" y="866" width="18" height="38" fill="#88d87c"/><rect x="1842" y="866" width="18" height="38" fill="#65a3f9"/><rect x="1862" y="866" width="22" height="38" fill="#f6bbfc"/><rect x="1886" y="866" width="58" height="38" fill="#6478e6"/><rect x="1946" y="866" width="16" height="38" fill="#b466ef"/><rect x="1964" y="866" width="64" height="38" fill="#fb8b8b"/><rect x="2030" y="866" width="26" height="38" fill="#f6df7c"/><rect x="2058" y="866" width="32" height="38" fill="#88d87c"/><rect x="2094" y="866" width="28" height="38" fill="#f6bbfc"/><rect x="2124" y="866" width="52" height="38" fill="#6478e6"/><rect x="2178" y="866" width="30" height="38" fill="#b466ef"/><rect x="2210" y="866" width="42" height="38" fill="#fb8b8b"/><rect x="2254" y="866" width="34" height="38" fill="#f6df7c"/><rect x="2290" y="866" width="96" height="38" fill="#88d87c"/><rect x="2388" y="866" width="70" height="38" fill="#65a3f9"/><rect x="2460" y="866" width="106" height="38" fill="#f6bbfc"/><rect x="2568" y="866" width="38" height="38" fill="#6478e6"/><rect x="1726" y="946" width="30" height="38" fill="#b466ef"/><rect x="1758" y="946" width="30" height="38" fill="#fb8b8b"/><rect x="1790" y="946" width="32" height="38" fill="#f6df7c"/><rect x="1824" y="946" width="22" height="38" fill="#88d87c"/><rect x="1848" y="946" width="10" height="38" fill="#65a3f9"/><rect x="1860" y="946" width="16" height="38" fill="#f6bbfc"/><rect x="1878" y="946" width="76" height="38" fill="#6478e6"/><rect x="1956" y="946" width="16" height="38" fill="#b466ef"/><rect x="1974" y="946" width="70" height="38" fill="#fb8b8b"/><rect x="2046" y="946" width="26" height="38" fill="#f6df7c"/><rect x="2074" y="946" width="32" height="38" fill="#88d87c"/><rect x="2108" y="946" width="16" height="38" fill="#f6bbfc"/><rect x="2126" y="946" width="54" height="38" fill="#6478e6"/><rect x="2182" y="946" width="36" height="38" fill="#b466ef"/><rect x="2220" y="946" width="40" height="38" fill="#fb8b8b"/><rect x="2262" y="946" width="32" height="38" fill="#f6df7c"/><rect x="2296" y="946" width="76" height="38" fill="#88d87c"/><rect x="2374" y="946" width="96" height="38" fill="#65a3f9"/><rect x="2472" y="946" width="104" height="38" fill="#f6bbfc"/><rect x="2578" y="946" width="28" height="38" fill="#6478e6"/><rect x="1726" y="1026" width="42" height="38" fill="#b466ef"/><rect x="1770" y="1026" width="34" height="38" fill="#fb8b8b"/><rect x="1806" y="1026" width="48" height="38" fill="#f6df7c"/><rect x="1856" y="1026" width="32" height="38" fill="#88d87c"/><rect x="1890" y="1026" width="26" height="38" fill="#65a3f9"/><rect x="1918" y="1026" width="26" height="38" fill="#f6bbfc"/><rect x="1946" y="1026" width="40" height="38" fill="#6478e6"/><rect x="1988" y="1026" width="10" height="38" fill="#b466ef"/><rect x="2000" y="1026" width="40" height="38" fill="#fb8b8b"/><rect x="2042" y="1026" width="38" height="38" fill="#f6df7c"/><rect x="2082" y="1026" width="38" height="38" fill="#88d87c"/><rect x="2124" y="1026" width="32" height="38" fill="#f6bbfc"/><rect x="2158" y="1026" width="32" height="38" fill="#6478e6"/><rect x="2192" y="1026" width="28" height="38" fill="#b466ef"/><rect x="2222" y="1026" width="44" height="38" fill="#fb8b8b"/><rect x="2268" y="1026" width="32" height="38" fill="#f6df7c"/><rect x="2302" y="1026" width="110" height="38" fill="#88d87c"/><rect x="2414" y="1026" width="80" height="38" fill="#65a3f9"/><rect x="2496" y="1026" width="74" height="38" fill="#f6bbfc"/><rect x="2572" y="1026" width="34" height="38" fill="#6478e6"/><rect x="1726" y="1106" width="62" height="38" fill="#b466ef"/><rect x="1790" y="1106" width="30" height="38" fill="#fb8b8b"/><rect x="1822" y="1106" width="30" height="38" fill="#f6df7c"/><rect x="1854" y="1106" width="24" height="38" fill="#88d87c"/><rect x="1880" y="1106" width="18" height="38" fill="#65a3f9"/><rect x="1900" y="1106" width="14" height="38" fill="#f6bbfc"/><rect x="1916" y="1106" width="78" height="38" fill="#6478e6"/><rect x="1996" y="1106" width="26" height="38" fill="#b466ef"/><rect x="2024" y="1106" width="86" height="38" fill="#fb8b8b"/><rect x="2112" y="1106" width="26" height="38" fill="#f6df7c"/><rect x="2140" y="1106" width="32" height="38" fill="#88d87c"/><rect x="2176" y="1106" width="18" height="38" fill="#f6bbfc"/><rect x="2196" y="1106" width="46" height="38" fill="#6478e6"/><rect x="2244" y="1106" width="28" height="38" fill="#b466ef"/><rect x="2274" y="1106" width="34" height="38" fill="#fb8b8b"/><rect x="2310" y="1106" width="32" height="38" fill="#f6df7c"/><rect x="2344" y="1106" width="72" height="38" fill="#88d87c"/><rect x="2418" y="1106" width="68" height="38" fill="#65a3f9"/><rect x="2488" y="1106" width="90" height="38" fill="#f6bbfc"/><rect x="2580" y="1106" width="26" height="38" fill="#6478e6"/><rect x="1726" y="1186" width="50" height="38" fill="#b466ef"/><rect x="1778" y="1186" width="30" height="38" fill="#fb8b8b"/><rect x="1810" y="1186" width="52" height="38" fill="#f6df7c"/><rect x="1864" y="1186" width="30" height="38" fill="#88d87c"/><rect x="1896" y="1186" width="24" height="38" fill="#65a3f9"/><rect x="1922" y="1186" width="24" height="38" fill="#f6bbfc"/><rect x="1948" y="1186" width="60" height="38" fill="#6478e6"/><rect x="2010" y="1186" width="20" height="38" fill="#b466ef"/><rect x="2032" y="1186" width="58" height="38" fill="#fb8b8b"/><rect x="2092" y="1186" width="22" height="38" fill="#f6df7c"/><rect x="2116" y="1186" width="30" height="38" fill="#88d87c"/><rect x="2150" y="1186" width="32" height="38" fill="#f6bbfc"/><rect x="2184" y="1186" width="36" height="38" fill="#6478e6"/><rect x="2222" y="1186" width="30" height="38" fill="#b466ef"/><rect x="2254" y="1186" width="36" height="38" fill="#fb8b8b"/><rect x="2292" y="1186" width="26" height="38" fill="#f6df7c"/><rect x="2320" y="1186" width="96" height="38" fill="#88d87c"/><rect x="2418" y="1186" width="62" height="38" fill="#65a3f9"/><rect x="2482" y="1186" width="88" height="38" fill="#f6bbfc"/><rect x="2572" y="1186" width="34" height="38" fill="#6478e6"/><rect x="1726" y="1266" width="42" height="38" fill="#b466ef"/><rect x="1770" y="1266" width="24" height="38" fill="#fb8b8b"/><rect x="1796" y="1266" width="44" height="38" fill="#f6df7c"/><rect x="1842" y="1266" width="20" height="38" fill="#88d87c"/><rect x="1864" y="1266" width="18" height="38" fill="#65a3f9"/><rect x="1884" y="1266" width="18" height="38" fill="#f6bbfc"/><rect x="1904" y="1266" width="46" height="38" fill="#6478e6"/><rect x="1952" y="1266" width="16" height="38" fill="#b466ef"/><rect x="1970" y="1266" width="52" height="38" fill="#fb8b8b"/><rect x="2024" y="1266" width="20" height="38" fill="#f6df7c"/><rect x="2046" y="1266" width="28" height="38" fill="#88d87c"/><rect x="2078" y="1266" width="24" height="38" fill="#f6bbfc"/><rect x="2104" y="1266" width="48" height="38" fill="#6478e6"/><rect x="2154" y="1266" width="38" height="38" fill="#b466ef"/><rect x="2194" y="1266" width="48" height="38" fill="#fb8b8b"/><rect x="2244" y="1266" width="34" height="38" fill="#f6df7c"/><rect x="2280" y="1266" width="98" height="38" fill="#88d87c"/><rect x="2380" y="1266" width="62" height="38" fill="#65a3f9"/><rect x="2444" y="1266" width="130" height="38" fill="#f6bbfc"/><rect x="2576" y="1266" width="30" height="38" fill="#6478e6"/><rect x="1726" y="1346" width="32" height="38" fill="#b466ef"/><rect x="1760" y="1346" width="24" height="38" fill="#fb8b8b"/><rect x="1786" y="1346" width="32" height="38" fill="#f6df7c"/><rect x="1820" y="1346" width="24" height="38" fill="#88d87c"/><rect x="1846" y="1346" width="26" height="38" fill="#65a3f9"/><rect x="1874" y="1346" width="28" height="38" fill="#f6bbfc"/><rect x="1904" y="1346" width="54" height="38" fill="#6478e6"/><rect x="1960" y="1346" width="12" height="38" fill="#b466ef"/><rect x="1974" y="1346" width="44" height="38" fill="#fb8b8b"/><rect x="2020" y="1346" width="30" height="38" fill="#f6df7c"/><rect x="2052" y="1346" width="32" height="38" fill="#88d87c"/><rect x="2088" y="1346" width="24" height="38" fill="#f6bbfc"/><rect x="2114" y="1346" width="40" height="38" fill="#6478e6"/><rect x="2156" y="1346" width="30" height="38" fill="#b466ef"/><rect x="2188" y="1346" width="42" height="38" fill="#fb8b8b"/><rect x="2232" y="1346" width="30" height="38" fill="#f6df7c"/><rect x="2264" y="1346" width="90" height="38" fill="#88d87c"/><rect x="2356" y="1346" width="80" height="38" fill="#65a3f9"/><rect x="2438" y="1346" width="134" height="38" fill="#f6bbfc"/><rect x="2574" y="1346" width="32" height="38" fill="#6478e6"/><rect x="1726" y="1426" width="30" height="23" fill="#b466ef"/><rect x="1758" y="1426" width="32" height="23" fill="#fb8b8b"/><rect x="1792" y="1426" width="24" height="23" fill="#f6df7c"/><rect x="1818" y="1426" width="24" height="23" fill="#88d87c"/><rect x="1844" y="1426" width="16" height="23" fill="#65a3f9"/><rect x="1862" y="1426" width="28" height="23" fill="#f6bbfc"/><rect x="1892" y="1426" width="52" height="23" fill="#6478e6"/><rect x="1946" y="1426" width="14" height="23" fill="#b466ef"/><rect x="1962" y="1426" width="48" height="23" fill="#fb8b8b"/><rect x="2012" y="1426" width="20" height="23" fill="#f6df7c"/><rect x="2034" y="1426" width="26" height="23" fill="#88d87c"/><rect x="2064" y="1426" width="18" height="23" fill="#f6bbfc"/><rect x="2084" y="1426" width="64" height="23" fill="#6478e6"/><rect x="2150" y="1426" width="34" height="23" fill="#b466ef"/><rect x="2186" y="1426" width="48" height="23" fill="#fb8b8b"/><rect x="2236" y="1426" width="46" height="23" fill="#f6df7c"/><rect x="2284" y="1426" width="150" height="23" fill="#88d87c"/><rect x="2436" y="1426" width="60" height="23" fill="#65a3f9"/><rect x="2498" y="1426" width="76" height="23" fill="#f6bbfc"/><rect x="2576" y="1426" width="30" height="23" fill="#6478e6"/><rect x="2651" y="845" width="32" height="604" fill="#f5f5f5"/><rect x="2651" y="845" width="32" height="70" rx="2" fill="#e0e0e0" shape-rendering="auto"/></svg><svg class="m" style="left:1645px;top:875px" width="80" height="32" shape-rendering="crispEdges"><rect x="0" y="0" width="16" height="16" fill="#f2f2f2"/><rect x="16" y="0" width="16" height="16" fill="#dadada"/><rect x="32" y="0" width="16" height="16" fill="#c8c8c8"/><rect x="48" y="0" width="16" height="16" fill="#dadada"/><rect x="64" y="0" width="16" height="16" fill="#f6f6f6"/><rect x="0" y="16" width="16" height="16" fill="#fafafa"/><rect x="16" y="16" width="16" height="16" fill="#f3f3f3"/><rect x="32" y="16" width="16" height="16" fill="#efefef"/><rect x="48" y="16" width="16" height="16" fill="#f2f2f2"/><rect x="64" y="16" width="16" height="16" fill="#fdfdfd"/></svg><svg class="m" style="left:1629px;top:955px" width="96" height="32" shape-rendering="crispEdges"><rect x="0" y="0" width="16" height="16" fill="#f4f4f4"/><rect x="16" y="0" width="16" height="16" fill="#d6d6d6"/><rect x="32" y="0" width="16" height="16" fill="#d0d0d0"/><rect x="48" y="0" width="16" height="16" fill="#d6d6d6"/><rect x="64" y="0" width="16" height="16" fill="#ececec"/><rect x="80" y="0" width="16" height="16" fill="#f2f2f2"/><rect x="0" y="16" width="16" height="16" fill="#fbfbfb"/><rect x="16" y="16" width="16" height="16" fill="#f0f0f0"/><rect x="32" y="16" width="16" height="16" fill="#f1f1f1"/><rect x="48" y="16" width="16" height="16" fill="#f2f2f2"/><rect x="64" y="16" width="16" height="16" fill="#f5f5f5"/><rect x="80" y="16" width="16" height="16" fill="#fafafa"/></svg><svg class="m" style="left:1629px;top:1035px" width="96" height="32" shape-rendering="crispEdges"><rect x="0" y="0" width="16" height="16" fill="#f4f4f4"/><rect x="16" y="0" width="16" height="16" fill="#d6d6d6"/><rect x="32" y="0" width="16" height="16" fill="#d0d0d0"/><rect x="48" y="0" width="16" height="16" fill="#d6d6d6"/><rect x="64" y="0" width="16" height="16" fill="#ececec"/><rect x="80" y="0" width="16" height="16" fill="#f2f2f2"/><rect x="0" y="16" width="16" height="16" fill="#fbfbfb"/><rect x="16" y="16" width="16" height="16" fill="#f0f0f0"/><rect x="32" y="16" width="16" height="16" fill="#f1f1f1"/><rect x="48" y="16" width="16" height="16" fill="#f2f2f2"/><rect x="64" y="16" width="16" height="16" fill="#f5f5f5"/><rect x="80" y="16" width="16" height="16" fill="#fafafa"/></svg><svg class="m" style="left:1629px;top:1115px" width="96" height="32" shape-rendering="crispEdges"><rect x="0" y="0" width="16" height="16" fill="#f4f4f4"/><rect x="16" y="0" width="16" height="16" fill="#d6d6d6"/><rect x="32" y="0" width="16" height="16" fill="#d0d0d0"/><rect x="48" y="0" width="16" height="16" fill="#d6d6d6"/><rect x="64" y="0" width="16" height="16" fill="#ececec"/><rect x="80" y="0" width="16" height="16" fill="#f2f2f2"/><rect x="0" y="16" width="16" height="16" fill="#fbfbfb"/><rect x="16" y="16" width="16" height="16" fill="#f0f0f0"/><rect x="32" y="16" width="16" height="16" fill="#f1f1f1"/><rect x="48" y="16" width="16" height="16" fill="#f2f2f2"/><rect x="64" y="16" width="16" height="16" fill="#f5f5f5"/><rect x="80" y="16" width="16" height="16" fill="#fafafa"/></svg><svg class="m" style="left:1629px;top:1195px" width="96" height="32" shape-rendering="crispEdges"><rect x="0" y="0" width="16" height="16" fill="#f4f4f4"/><rect x="16" y="0" width="16" height="16" fill="#d6d6d6"/><rect x="32" y="0" width="16" height="16" fill="#d0d0d0"/><rect x="48" y="0" width="16" height="16" fill="#d6d6d6"/><rect x="64" y="0" width="16" height="16" fill="#ececec"/><rect x="80" y="0" width="16" height="16" fill="#f2f2f2"/><rect x="0" y="16" width="16" height="16" fill="#fbfbfb"/><rect x="16" y="16" width="16" height="16" fill="#f0f0f0"/><rect x="32" y="16" width="16" height="16" fill="#f1f1f1"/><rect x="48" y="16" width="16" height="16" fill="#f2f2f2"/><rect x="64" y="16" width="16" height="16" fill="#f5f5f5"/><rect x="80" y="16" width="16" height="16" fill="#fafafa"/></svg><svg class="m" style="left:1629px;top:1275px" width="96" height="32" shape-rendering="crispEdges"><rect x="0" y="0" width="16" height="16" fill="#f4f4f4"/><rect x="16" y="0" width="16" height="16" fill="#d6d6d6"/><rect x="32" y="0" width="16" height="16" fill="#d0d0d0"/><rect x="48" y="0" width="16" height="16" fill="#d6d6d6"/><rect x="64" y="0" width="16" height="16" fill="#ececec"/><rect x="80" y="0" width="16" height="16" fill="#f2f2f2"/><rect x="0" y="16" width="16" height="16" fill="#fbfbfb"/><rect x="16" y="16" width="16" height="16" fill="#f0f0f0"/><rect x="32" y="16" width="16" height="16" fill="#f1f1f1"/><rect x="48" y="16" width="16" height="16" fill="#f2f2f2"/><rect x="64" y="16" width="16" height="16" fill="#f5f5f5"/><rect x="80" y="16" width="16" height="16" fill="#fafafa"/></svg><svg class="m" style="left:1629px;top:1355px" width="96" height="32" shape-rendering="crispEdges"><rect x="0" y="0" width="16" height="16" fill="#f4f4f4"/><rect x="16" y="0" width="16" height="16" fill="#d6d6d6"/><rect x="32" y="0" width="16" height="16" fill="#d0d0d0"/><rect x="48" y="0" width="16" height="16" fill="#d6d6d6"/><rect x="64" y="0" width="16" height="16" fill="#ececec"/><rect x="80" y="0" width="16" height="16" fill="#f2f2f2"/><rect x="0" y="16" width="16" height="16" fill="#fbfbfb"/><rect x="16" y="16" width="16" height="16" fill="#f0f0f0"/><rect x="32" y="16" width="16" height="16" fill="#f1f1f1"/><rect x="48" y="16" width="16" height="16" fill="#f2f2f2"/><rect x="64" y="16" width="16" height="16" fill="#f5f5f5"/><rect x="80" y="16" width="16" height="16" fill="#fafafa"/></svg><svg class="m" style="left:1645px;top:1435px" width="80" height="15" shape-rendering="crispEdges"><rect x="0" y="0" width="16" height="16" fill="#f0f0f0"/><rect x="16" y="0" width="16" height="16" fill="#e0e0e0"/><rect x="32" y="0" width="16" height="16" fill="#d2d2d2"/><rect x="48" y="0" width="16" height="16" fill="#dcdcdc"/><rect x="64" y="0" width="16" height="16" fill="#f8f8f8"/></svg><div class="t" style="left:1729.00px;top:1464.81px;font-size:25.6px;color:#6a6a6a;letter-spacing:-0.5px;">0%</div>
<div class="t" style="left:1787.96px;top:1464.81px;font-size:25.6px;color:#6a6a6a;letter-spacing:-0.5px;">10%</div>
<div class="t" style="left:1876.49px;top:1464.81px;font-size:25.6px;color:#6a6a6a;letter-spacing:-0.5px;">20%</div>
<div class="t" style="left:1964.85px;top:1464.81px;font-size:25.6px;color:#6a6a6a;letter-spacing:-0.5px;">30%</div>
<div class="t" style="left:2053.24px;top:1464.81px;font-size:25.6px;color:#6a6a6a;letter-spacing:-0.5px;">40%</div>
<div class="t" style="left:2141.22px;top:1464.81px;font-size:25.6px;color:#6a6a6a;letter-spacing:-0.5px;">50%</div>
<div class="t" style="left:2229.29px;top:1464.81px;font-size:25.6px;color:#6a6a6a;letter-spacing:-0.5px;">60%</div>
<div class="t" style="left:2317.48px;top:1464.81px;font-size:25.6px;color:#6a6a6a;letter-spacing:-0.5px;">70%</div>
<div class="t" style="left:2405.78px;top:1464.81px;font-size:25.6px;color:#6a6a6a;letter-spacing:-0.5px;">80%</div>
<div class="t" style="left:2493.94px;top:1464.81px;font-size:25.6px;color:#6a6a6a;letter-spacing:-0.5px;">90%</div>
<div class="t" style="left:2574.89px;top:1464.81px;font-size:25.6px;color:#6a6a6a;letter-spacing:-0.5px;">100%</div></div>
</body></html>
